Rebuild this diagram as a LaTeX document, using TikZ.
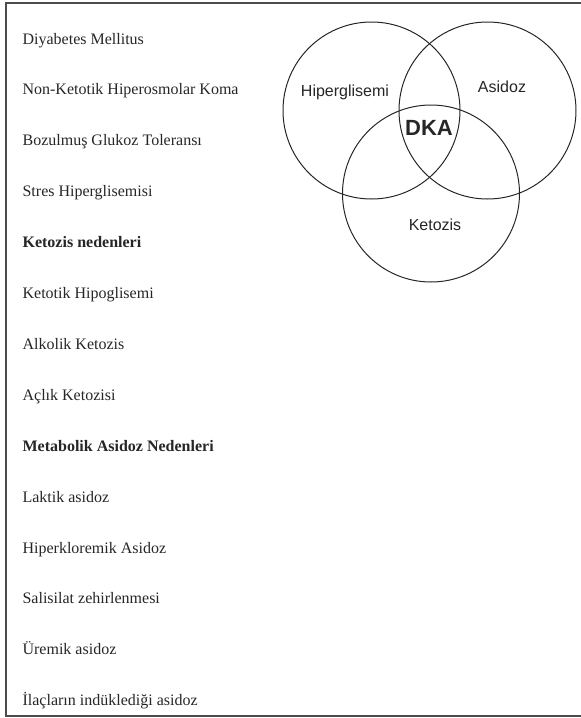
\documentclass[tikz,border=0pt]{standalone}
\usepackage{fontspec}
\setmainfont{Liberation Serif}
\setsansfont{Liberation Sans}
\usetikzlibrary{positioning}

\begin{document}
\begin{tikzpicture}[x=0.5pt,y=-0.5pt,
node distance=25.45pt,
semithick]
\tikzset{
	listItem/.style={
		anchor=west,
		inner sep=0pt,
		text height=6pt,
		text depth=2pt,
		text=black!85,
		font=\fontsize{8}{9.6}\selectfont
	},
	listHead/.style={
		listItem,
		font=\fontsize{8}{9.6}\selectfont\bfseries
	},
	vennSet/.style={
		circle,
		draw=black!85,
		minimum size=88.5pt,
		inner sep=0pt,
		line width=0.5pt
	},
	vennLabel/.style={
		text=black!85,
		font=\sffamily\fontsize{8}{9.6}\selectfont
	}
}

\useasboundingbox (0,0) rectangle (581,718);

%frame
\draw[gray!60!black, line width=0.75pt] (581,3) -- (6,3) -- (6,716) -- (581,716);

%--------------------------- list ------------
\node[listItem] (L1) at (22,40) {Diyabetes Mellitus};
\node[listItem, below=of L1.west, anchor=west] (L2) {Non-Ketotik Hiperosmolar Koma};
\node[listItem, below=of L2.west, anchor=west] (L3) {Bozulmuş Glukoz Toleransı};
\node[listItem, below=of L3.west, anchor=west] (L4) {Stres Hiperglisemisi};
\node[listHead, below=of L4.west, anchor=west] (L5) {Ketozis nedenleri};
\node[listItem, below=of L5.west, anchor=west] (L6) {Ketotik Hipoglisemi};
\node[listItem, below=of L6.west, anchor=west] (L7) {Alkolik Ketozis};
\node[listItem, below=of L7.west, anchor=west] (L8) {Açlık Ketozisi};
\node[listHead, below=of L8.west, anchor=west] (L9) {Metabolik Asidoz Nedenleri};
\node[listItem, below=of L9.west, anchor=west] (L10) {Laktik asidoz};
\node[listItem, below=of L10.west, anchor=west] (L11) {Hiperkloremik Asidoz};
\node[listItem, below=of L11.west, anchor=west] (L12) {Salisilat zehirlenmesi};
\node[listItem, below=of L12.west, anchor=west] (L13) {Üremik asidoz};
\node[listItem, below=of L13.west, anchor=west] (L14) {İlaçların indüklediği asidoz};

%--------------------------- venn ------------
\node[vennSet] (HG) at (371.5,110.5) {};
\node[vennSet] (AS) at (487.5,110.5) {};
\node[vennSet] (KT) at (431,193.5) {};

\node[vennLabel] (HGlabel) at (345,92) {Hiperglisemi};
\node[vennLabel] (ASlabel) at (502,87) {Asidoz};
\node[vennLabel] (KTlabel) at (435,225) {Ketozis};
\node[vennLabel, font=\sffamily\bfseries\fontsize{11}{13}\selectfont] (DKA) at (429,128) {DKA};

\end{tikzpicture}
\end{document}
